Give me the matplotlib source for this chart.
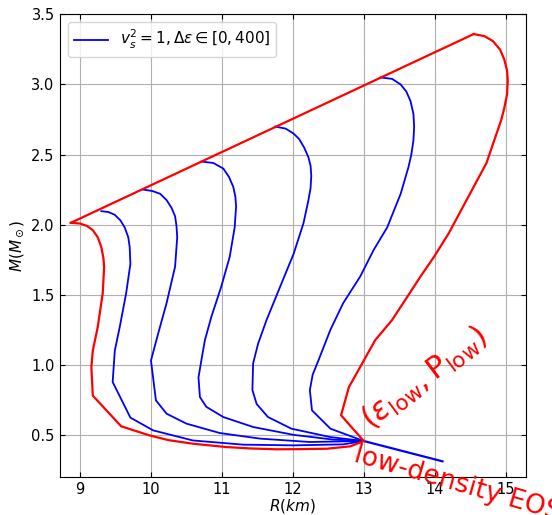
import matplotlib
matplotlib.use("Agg")
import matplotlib.pyplot as plt

# Mass-radius curves (R in km, M in solar masses)
red_left_R = [13.0, 12.81, 12.48, 12.1, 11.77, 11.4, 11.06, 10.59, 10.25, 9.98, 9.58, 9.18, 9.16, 9.18, 9.25, 9.32,
              9.34, 9.33, 9.30, 9.25, 9.18, 9.10, 9.0, 8.87]
red_left_M = [0.456, 0.418, 0.401, 0.398, 0.397, 0.403, 0.413, 0.437, 0.462, 0.496, 0.561, 0.78, 0.984, 1.10, 1.27, 1.51,
              1.70, 1.76, 1.84, 1.91, 1.96, 1.99, 2.008, 2.013]

red_right_R = [14.55, 14.7, 14.82, 14.92, 14.98, 15.02, 15.03, 15.02, 14.98, 14.94, 14.73, 14.2, 13.99, 13.8, 13.4,
               13.16, 13.0, 12.79, 12.68, 13.0]
red_right_M = [3.36, 3.345, 3.31, 3.25, 3.18, 3.10, 3.03, 2.93, 2.83, 2.75, 2.44, 1.94, 1.77, 1.63, 1.32,
               1.175, 1.03, 0.84, 0.64, 0.456]

blue1_R = [9.30, 9.40, 9.49, 9.57, 9.63, 9.68, 9.70, 9.71, 9.65, 9.56, 9.49, 9.46, 9.71, 10.03, 10.59, 11.30, 12.01, 12.71, 13.0]
blue1_M = [2.096, 2.09, 2.07, 2.03, 1.98, 1.91, 1.84, 1.72, 1.51, 1.27, 1.10, 0.877, 0.623, 0.532, 0.46, 0.43, 0.425, 0.432, 0.456]

blue2_R = [9.89, 10.02, 10.13, 10.22, 10.29, 10.34, 10.36, 10.37, 10.34, 10.22, 10.10, 10.00, 10.07, 10.22, 10.50,
           10.97, 11.54, 12.24, 13.0]
blue2_M = [2.25, 2.24, 2.22, 2.175, 2.12, 2.06, 1.99, 1.91, 1.70, 1.44, 1.22, 1.03, 0.746, 0.651, 0.58,
           0.513, 0.473, 0.449, 0.456]

blue3_R = [10.71, 10.88, 11.02, 11.10, 11.16, 11.19, 11.20, 11.18, 11.11, 10.99, 10.85, 10.76, 10.71, 10.67, 10.69,
           10.78, 11.02, 11.44, 12.01, 12.57, 13.0]
blue3_M = [2.45, 2.44, 2.40, 2.34, 2.27, 2.20, 2.13, 1.98, 1.77, 1.556, 1.34, 1.175, 1.03, 0.91, 0.77,
           0.70, 0.627, 0.556, 0.50, 0.466, 0.456]

blue4_R = [11.75, 11.90, 12.01, 12.09, 12.16, 12.22, 12.25, 12.26, 12.25, 12.22, 12.15, 12.01, 11.82, 11.63, 11.51,
           11.44, 11.43, 11.49, 11.65, 11.98, 12.53, 13.0]
blue4_M = [2.70, 2.685, 2.65, 2.61, 2.55, 2.48, 2.42, 2.35, 2.26, 2.175, 2.01, 1.79, 1.556, 1.32, 1.15,
           1.01, 0.82, 0.72, 0.627, 0.544, 0.484, 0.456]

blue5_R = [13.24, 13.40, 13.52, 13.60, 13.66, 13.70, 13.71, 13.70, 13.67, 13.63, 13.52, 13.33, 13.14, 12.95, 12.71,
           12.53, 12.36, 12.28, 12.24, 12.27, 12.53, 13.0]
blue5_M = [3.05, 3.04, 3.0, 2.95, 2.88, 2.79, 2.70, 2.60, 2.50, 2.41, 2.22, 1.98, 1.82, 1.63, 1.44,
           1.25, 1.03, 0.93, 0.82, 0.675, 0.544, 0.456]

lowdens_R = [13.0, 14.11]
lowdens_M = [0.456, 0.311]

x_ticks = [9, 10, 11, 12, 13, 14, 15]
y_ticks = [0.5, 1.0, 1.5, 2.0, 2.5, 3.0, 3.5]

fig = plt.figure(figsize=(5.52, 5.15), dpi=100)
ax = fig.add_axes([0.109, 0.074, 0.843, 0.898])

blue_curves = [(blue1_R, blue1_M), (blue2_R, blue2_M), (blue3_R, blue3_M),
               (blue4_R, blue4_M), (blue5_R, blue5_M)]
for i, (r, m) in enumerate(blue_curves):
    ax.plot(r, m, color="blue", lw=1.3,
            label=r"$v_s^2=1,\Delta\varepsilon\in[0,400]$" if i == 0 else None)
ax.plot(lowdens_R, lowdens_M, color="blue", lw=1.6)

ax.plot(red_left_R, red_left_M, color="red", lw=1.6)
ax.plot(red_right_R, red_right_M, color="red", lw=1.6)
ax.plot([red_left_R[-1], red_right_R[0]], [red_left_M[-1], red_right_M[0]], color="red", lw=1.6)

ax.set_xlim(8.72, 15.28)
ax.set_ylim(0.2, 3.5)
ax.set_xticks(x_ticks)
ax.set_yticks(y_ticks)
ax.tick_params(direction="in", top=True, right=True, labelsize=10.5, pad=4)
ax.grid(True, color="#b0b0b0", lw=0.8)
ax.set_axisbelow(True)
ax.set_xlabel(r"$R(km)$", fontsize=11, labelpad=0)
ax.set_ylabel(r"$M(M_\odot)$", fontsize=11, labelpad=4)

ax.legend(loc="upper left", fontsize=11, handlelength=2.2)

ax.text(13.1, 0.53, r"$(\varepsilon_{\mathrm{low}},\mathrm{P}_{\mathrm{low}})$",
        color="red", fontsize=22, rotation=37, rotation_mode="anchor",
        ha="left", va="baseline")
ax.text(12.92, 0.45, "low-density EOS", color="red", fontsize=19,
        rotation=-16, rotation_mode="anchor", ha="left", va="top", clip_on=False)

fig.savefig("out.png", dpi=100)
